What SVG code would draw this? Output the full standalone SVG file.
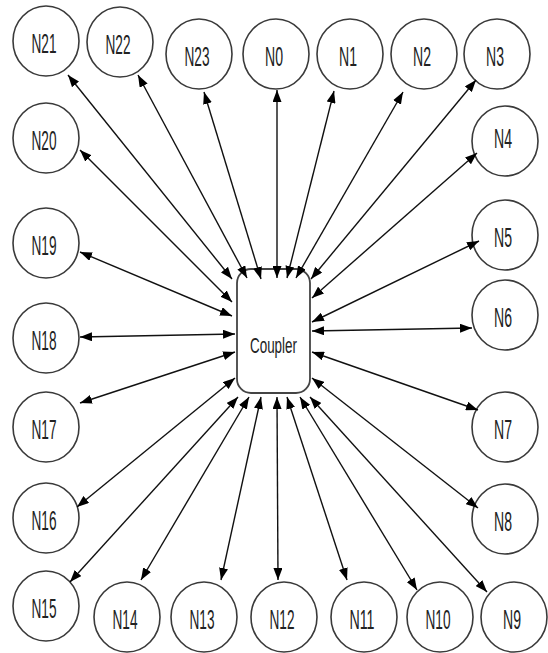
<svg xmlns="http://www.w3.org/2000/svg" width="548" height="653" viewBox="0 0 548 653">
<style>
.node ellipse{fill:#fff;stroke:#3a3a3a;stroke-width:1.6}
.node text{font-family:"Liberation Sans Narrow","Liberation Sans",Arial,sans-serif;font-size:27px;fill:#222;text-anchor:middle}
#coupler rect{fill:#fff;stroke:#444;stroke-width:1.8}
#coupler text{font-family:"Liberation Sans Narrow","Liberation Sans",Arial,sans-serif;font-size:22px;fill:#222;text-anchor:middle}
#connectors line{stroke:#111;stroke-width:1.4;marker-start:url(#arr);marker-end:url(#arr)}
</style>
<defs>
<marker id="arr" viewBox="0 0 12 9" refX="12" refY="4.5" markerWidth="12" markerHeight="9" markerUnits="userSpaceOnUse" orient="auto-start-reverse">
<path d="M0,0 L12,4.5 L0,9 z" fill="#000"/>
</marker>
</defs>
<rect width="548" height="653" fill="#fff"/>
<g id="N21" class="node"><ellipse cx="46" cy="41" rx="33" ry="35"/><text x="44" y="53" textLength="25" lengthAdjust="spacingAndGlyphs">N21</text></g>
<g id="N22" class="node"><ellipse cx="120" cy="42" rx="33" ry="35"/><text x="118" y="54" textLength="25" lengthAdjust="spacingAndGlyphs">N22</text></g>
<g id="N23" class="node"><ellipse cx="199" cy="54" rx="33" ry="35"/><text x="197" y="66" textLength="25" lengthAdjust="spacingAndGlyphs">N23</text></g>
<g id="N0" class="node"><ellipse cx="276" cy="54" rx="33" ry="35"/><text x="274" y="66" textLength="18" lengthAdjust="spacingAndGlyphs">N0</text></g>
<g id="N1" class="node"><ellipse cx="350" cy="54" rx="33" ry="35"/><text x="348" y="66" textLength="18" lengthAdjust="spacingAndGlyphs">N1</text></g>
<g id="N2" class="node"><ellipse cx="424" cy="54" rx="33" ry="35"/><text x="422" y="66" textLength="18" lengthAdjust="spacingAndGlyphs">N2</text></g>
<g id="N3" class="node"><ellipse cx="497" cy="54" rx="33" ry="35"/><text x="495" y="66" textLength="18" lengthAdjust="spacingAndGlyphs">N3</text></g>
<g id="N4" class="node"><ellipse cx="505" cy="141" rx="33" ry="35"/><text x="503" y="148" textLength="18" lengthAdjust="spacingAndGlyphs">N4</text></g>
<g id="N5" class="node"><ellipse cx="505" cy="235" rx="33" ry="35"/><text x="503" y="247" textLength="18" lengthAdjust="spacingAndGlyphs">N5</text></g>
<g id="N6" class="node"><ellipse cx="505" cy="315" rx="33" ry="35"/><text x="503" y="327" textLength="18" lengthAdjust="spacingAndGlyphs">N6</text></g>
<g id="N7" class="node"><ellipse cx="505" cy="427" rx="33" ry="35"/><text x="503" y="439" textLength="18" lengthAdjust="spacingAndGlyphs">N7</text></g>
<g id="N8" class="node"><ellipse cx="505" cy="519" rx="33" ry="35"/><text x="503" y="531" textLength="18" lengthAdjust="spacingAndGlyphs">N8</text></g>
<g id="N9" class="node"><ellipse cx="514" cy="617" rx="33" ry="35"/><text x="512" y="629" textLength="18" lengthAdjust="spacingAndGlyphs">N9</text></g>
<g id="N10" class="node"><ellipse cx="440" cy="617" rx="33" ry="35"/><text x="438" y="629" textLength="25" lengthAdjust="spacingAndGlyphs">N10</text></g>
<g id="N11" class="node"><ellipse cx="364" cy="617" rx="33" ry="35"/><text x="362" y="629" textLength="25" lengthAdjust="spacingAndGlyphs">N11</text></g>
<g id="N12" class="node"><ellipse cx="284" cy="617" rx="33" ry="35"/><text x="282" y="629" textLength="25" lengthAdjust="spacingAndGlyphs">N12</text></g>
<g id="N13" class="node"><ellipse cx="204" cy="617" rx="33" ry="35"/><text x="202" y="629" textLength="25" lengthAdjust="spacingAndGlyphs">N13</text></g>
<g id="N14" class="node"><ellipse cx="127" cy="617" rx="33" ry="35"/><text x="125" y="629" textLength="25" lengthAdjust="spacingAndGlyphs">N14</text></g>
<g id="N15" class="node"><ellipse cx="46" cy="606" rx="33" ry="35"/><text x="44" y="618" textLength="25" lengthAdjust="spacingAndGlyphs">N15</text></g>
<g id="N16" class="node"><ellipse cx="46" cy="518" rx="33" ry="35"/><text x="44" y="530" textLength="25" lengthAdjust="spacingAndGlyphs">N16</text></g>
<g id="N17" class="node"><ellipse cx="46" cy="427" rx="33" ry="35"/><text x="44" y="439" textLength="25" lengthAdjust="spacingAndGlyphs">N17</text></g>
<g id="N18" class="node"><ellipse cx="46" cy="338" rx="33" ry="35"/><text x="44" y="350" textLength="25" lengthAdjust="spacingAndGlyphs">N18</text></g>
<g id="N19" class="node"><ellipse cx="46" cy="243" rx="33" ry="35"/><text x="44" y="255" textLength="25" lengthAdjust="spacingAndGlyphs">N19</text></g>
<g id="N20" class="node"><ellipse cx="46" cy="138" rx="33" ry="35"/><text x="44" y="150" textLength="25" lengthAdjust="spacingAndGlyphs">N20</text></g>
<g id="coupler"><rect x="237" y="269" width="73" height="124" rx="14" ry="14"/><text x="273.5" y="353" textLength="47" lengthAdjust="spacingAndGlyphs">Coupler</text></g>
<g id="connectors">
<line x1="68" y1="75" x2="232" y2="279"/>
<line x1="138" y1="75" x2="247" y2="278"/>
<line x1="204" y1="92" x2="261" y2="279"/>
<line x1="277" y1="90" x2="277" y2="278"/>
<line x1="334" y1="91" x2="287" y2="278"/>
<line x1="403" y1="92" x2="296" y2="278"/>
<line x1="476" y1="80" x2="311" y2="279"/>
<line x1="477" y1="153" x2="312" y2="298"/>
<line x1="479" y1="241" x2="312" y2="322"/>
<line x1="472" y1="328" x2="312" y2="331"/>
<line x1="478" y1="410" x2="312" y2="352"/>
<line x1="478" y1="508" x2="312" y2="378"/>
<line x1="487" y1="592" x2="310" y2="397"/>
<line x1="417" y1="590" x2="300" y2="397"/>
<line x1="347" y1="580" x2="287" y2="397"/>
<line x1="278" y1="580" x2="277" y2="397"/>
<line x1="221" y1="580" x2="261" y2="397"/>
<line x1="141" y1="580" x2="249" y2="397"/>
<line x1="70" y1="582" x2="238" y2="397"/>
<line x1="77" y1="507" x2="235" y2="378"/>
<line x1="80" y1="403" x2="235" y2="352"/>
<line x1="80" y1="337" x2="235" y2="334"/>
<line x1="80" y1="252" x2="232" y2="316"/>
<line x1="80" y1="150" x2="232" y2="302"/>
</g>
</svg>
